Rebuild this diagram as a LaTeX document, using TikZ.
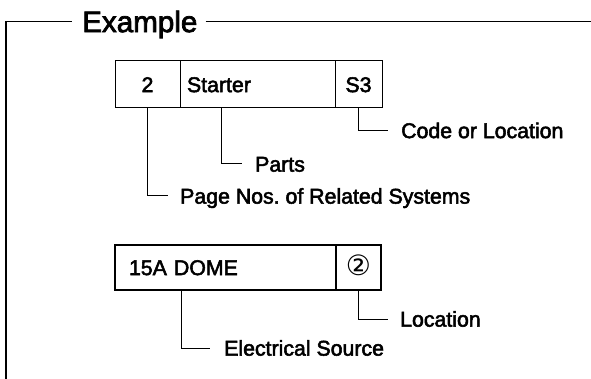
\documentclass[tikz,border=0pt]{standalone}
\usepackage{fontspec}
\setmainfont{Liberation Sans}
\newfontfamily\heavy{Liberation Sans}[UprightFeatures={FakeBold=2.5}]
\newfontfamily\symfont{DejaVu Sans}
\usetikzlibrary{positioning}
\frenchspacing

\begin{document}
\begin{tikzpicture}[x=1pt,y=-1pt,
    cell/.style={draw, line width=1pt, minimum height=47pt, inner sep=0pt, outer sep=0pt,
      text height=15.2pt, text depth=0pt, font=\heavy\fontsize{21.3}{24}\selectfont},
    fatcell/.style={cell, line width=2.8pt, minimum height=45pt},
    lbl/.style={anchor=west, inner sep=0pt, text height=15.2pt, text depth=0pt,
      font=\heavy\fontsize{21.3}{24}\selectfont},
    leader/.style={line width=1pt},
    frame/.style={line width=1.3pt}]
  \useasboundingbox (0,0) rectangle (591,379);
  % title and frame
  \node [anchor=west, inner sep=0pt, text height=21.2pt, text depth=0pt,
    font=\heavy\fontsize{29.6}{32}\selectfont] (title) at (82,21.5) {Example};
  \coordinate (corner) at (6,21.5);
  \coordinate (foot) at (6,379);
  \coordinate (edge) at (591,21.5);
  \draw [frame] (foot) -- (corner) -- ([xshift=-10pt]title.west);
  \draw [frame] ([xshift=8pt]title.east) -- (edge);
  % first box
  \node [cell, minimum width=65pt, anchor=north west] (pg) at (115,61) {2};
  \node [cell, minimum width=155pt, text width=141pt, inner xsep=7pt, align=left,
    right=0pt of pg] (st) {Starter};
  \node [cell, minimum width=47pt, right=0pt of st] (sc) {S3};
  \node [lbl] (code) at (401,130.5) {Code or Location};
  \node [lbl] (parts) at (255,164) {Parts};
  \node [lbl] (pgnos) at (180,196) {Page Nos. of Related Systems};
  \draw [leader] (pg.south) |- ([xshift=-12pt]pgnos.west);
  \draw [leader] ([xshift=41pt]st.south west) |- ([xshift=-13pt]parts.west);
  \draw [leader] (sc.south) |- ([xshift=-13pt]code.west);
  % second box
  \node [fatcell, minimum width=221pt, text width=193pt, inner xsep=14pt, align=left,
    anchor=north west] (dome) at (115,245) {15A DOME};
  \node [fatcell, minimum width=45pt, font=\symfont\fontsize{28}{30}\selectfont,
    right=0pt of dome] (loc) {②};
  \node [lbl] (where) at (400,319) {Location};
  \node [lbl] (elec) at (224,348) {Electrical Source};
  \draw [leader] ([xshift=66pt]dome.south west) |- ([xshift=-14pt]elec.west);
  \draw [leader] (loc.south) |- ([xshift=-12pt]where.west);
\end{tikzpicture}
\end{document}
